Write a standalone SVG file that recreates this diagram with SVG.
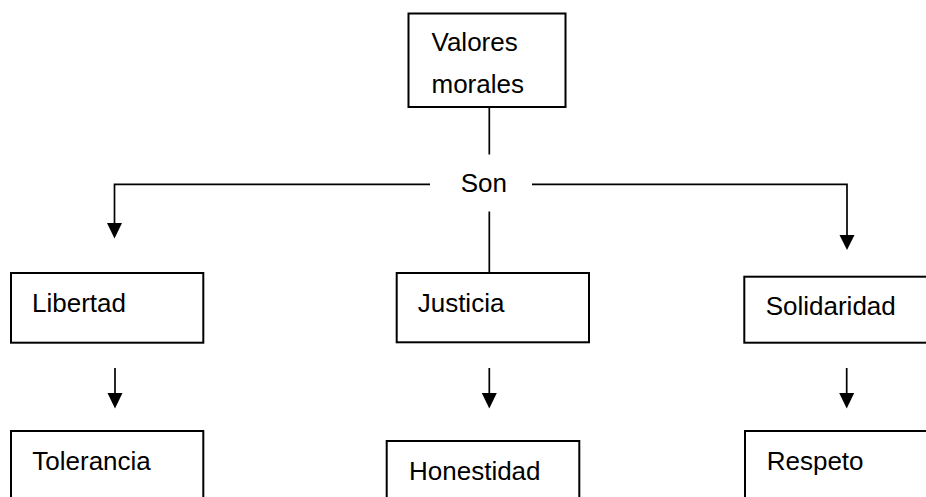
<svg xmlns="http://www.w3.org/2000/svg" width="926" height="497" viewBox="0 0 926 497">
<style>
.box{fill:#fff;stroke:#000;stroke-width:2}
.t{font-family:"Liberation Sans",Arial,sans-serif;font-size:26px;fill:#000}
.ln{stroke:#000;stroke-width:1.7;fill:none}
.ah{fill:#000}
</style>
<rect width="926" height="497" fill="#fff"/>
<g id="connectors">
<line class="ln" x1="489.3" y1="107" x2="489.3" y2="154.5"/>
<polyline class="ln" points="430,184.3 114.5,184.3 114.5,224"/>
<polygon class="ah" points="107,223 122,223 114.5,238.5"/>
<polyline class="ln" points="532,184.3 847,184.3 847,236"/>
<polygon class="ah" points="839.5,235 854.5,235 847,250"/>
<line class="ln" x1="489.3" y1="211.5" x2="489.3" y2="273"/>
<line class="ln" x1="115" y1="368" x2="115" y2="394"/>
<polygon class="ah" points="107.5,393 122.5,393 115,408.5"/>
<line class="ln" x1="489.3" y1="368" x2="489.3" y2="394"/>
<polygon class="ah" points="481.8,393 496.8,393 489.3,408.5"/>
<line class="ln" x1="846.7" y1="368" x2="846.7" y2="394"/>
<polygon class="ah" points="839.2,393 854.2,393 846.7,408.5"/>
</g>
<g id="valores">
<rect class="box" x="408.5" y="13.5" width="157" height="93.5"/>
<text class="t" x="431.5" y="51">Valores</text>
<text class="t" x="431.5" y="92.7">morales</text>
</g>
<g id="son">
<text class="t" x="460.7" y="192.3">Son</text>
</g>
<g id="libertad">
<rect class="box" x="11" y="273" width="192.3" height="69.7"/>
<text class="t" x="32" y="312">Libertad</text>
</g>
<g id="justicia">
<rect class="box" x="396.7" y="273" width="192.3" height="69.3"/>
<text class="t" x="417.7" y="312.3">Justicia</text>
</g>
<g id="solidaridad">
<rect class="box" x="744.3" y="276.7" width="190" height="66"/>
<text class="t" x="765.7" y="315">Solidaridad</text>
</g>
<g id="tolerancia">
<rect class="box" x="11" y="431" width="192.3" height="80"/>
<text class="t" x="32.3" y="470">Tolerancia</text>
</g>
<g id="honestidad">
<rect class="box" x="386.7" y="441" width="192.6" height="70"/>
<text class="t" x="409" y="480">Honestidad</text>
</g>
<g id="respeto">
<rect class="box" x="745" y="431" width="190" height="80"/>
<text class="t" x="766.7" y="470">Respeto</text>
</g>
</svg>
